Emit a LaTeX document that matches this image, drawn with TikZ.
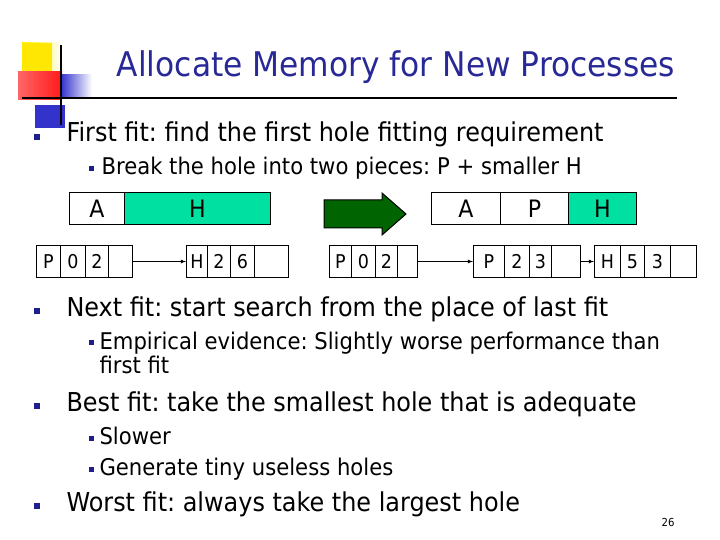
\documentclass[tikz,border=0pt]{standalone}
\usepackage{fontspec}
\setmainfont{DejaVu Sans}[FakeStretch=0.92]
\begin{document}
\frenchspacing
\begin{tikzpicture}[x=1pt,y=-1pt,
  cell/.style={draw,line width=1pt,minimum height=32pt,inner sep=0pt,font=\fontsize{24}{24}\selectfont},
  lcell/.style={draw,line width=1pt,inner sep=0pt,font=\fontsize{19}{19}\selectfont},
  bul/.style={fill=bulblue,minimum size=6pt,inner sep=0pt},
  arr/.style={-latex,line width=0.8pt},
  big/.style={anchor=base west,font=\fontsize{26}{26}\selectfont},
  small/.style={anchor=base west,font=\fontsize{23}{23}\selectfont}]
\definecolor{bulblue}{RGB}{30,30,140}
\definecolor{titleblue}{RGB}{40,40,150}
\definecolor{holegreen}{RGB}{0,224,160}
\definecolor{arrgreen}{RGB}{0,100,0}
\useasboundingbox (0,0) rectangle (720,540);
% decoration
\shade[left color=yellow!90!orange,right color=white] (22,43) rectangle (62,75);
\fill[yellow!90!orange] (22,43) rectangle (52,75);
\shade[left color=red!60!white, right color=red!90] (18,72) rectangle (62,100);
\shade[left color=blue!75!black!80, right color=white] (61,75) rectangle (92,98);
\fill[blue!75!black!80] (35,105) rectangle (65,128);
\draw[line width=1.5pt] (61,45) -- (61,125);
\draw[line width=1.5pt] (22,98) -- (677,98);
\node[text=titleblue,font=\fontsize{34}{34}\selectfont] (title) at (396,67) {Allocate Memory for New Processes};
% bullets
\node[bul] (b1) at (37,137) {};
\node[big] (t1) at (63,142) {First fit: find the first hole fitting requirement};
\node[bul,minimum size=5pt] (b2) at (91,169) {};
\node[small] (t2) at (98,175) {Break the hole into two pieces: P + smaller H};
% diagram top
\node[cell,minimum width=55pt,anchor=north west] (a1) at (69,192) {A};
\node[cell,minimum width=146pt,fill=holegreen,anchor=north west] (h1) at (124,192) {H};
\draw[line width=1pt,fill=arrgreen] (324,200) -- (382,200) -- (382,193) -- (406,214) -- (382,235) -- (382,228) -- (324,228) -- cycle;
\node[cell,minimum width=69pt,anchor=north west] (a2) at (431,192) {A};
\node[cell,minimum width=68pt,anchor=north west] (p2) at (500,192) {P};
\node[cell,minimum width=68pt,fill=holegreen,anchor=north west] (h2) at (568,192) {H};
% lists
\foreach \n/\x/\w/\t in {l11/36/24/P,l12/60/25/0,l13/85/23/2,l14/108/24/{},
  l21/186/21/H,l22/207/23/2,l23/230/24/6,l24/254/34/{},
  l31/329/22/P,l32/351/24/0,l33/375/22/2,l34/397/20/{},
  l41/473/31/P,l42/504/25/2,l43/529/22/3,l44/551/29/{},
  l51/594/26/H,l52/620/24/5,l53/644/26/3,l54/670/26/{}}
  \node[lcell,minimum width=\w pt,minimum height=32pt,anchor=north west] (\n) at (\x,245) {\t};
\draw[arr] (l14.east) -- (l21.west);
\draw[arr] (l34.east) -- (l41.west);
\draw[arr] (l44.east) -- (l51.west);
% more bullets
\node[bul] (b3) at (37,311) {};
\node[big] (t3) at (63,316) {Next fit: start search from the place of last fit};
\node[bul,minimum size=5pt] (b4) at (91,342) {};
\node[small] (t4) at (96,349) {Empirical evidence: Slightly worse performance than};
\node[small] (t4b) at (96,373) {first fit};
\node[bul] (b5) at (37,406) {};
\node[big] (t5) at (63,411) {Best fit: take the smallest hole that is adequate};
\node[bul,minimum size=5pt] (b6) at (91,438) {};
\node[small] (t6) at (96,444) {Slower};
\node[bul,minimum size=5pt] (b7) at (91,469) {};
\node[small] (t7) at (96,475) {Generate tiny useless holes};
\node[bul] (b8) at (37,506) {};
\node[big] (t8) at (63,511) {Worst fit: always take the largest hole};
\node[font=\fontsize{11}{11}\selectfont] (pg) at (668,522) {26};
\end{tikzpicture}
\end{document}
